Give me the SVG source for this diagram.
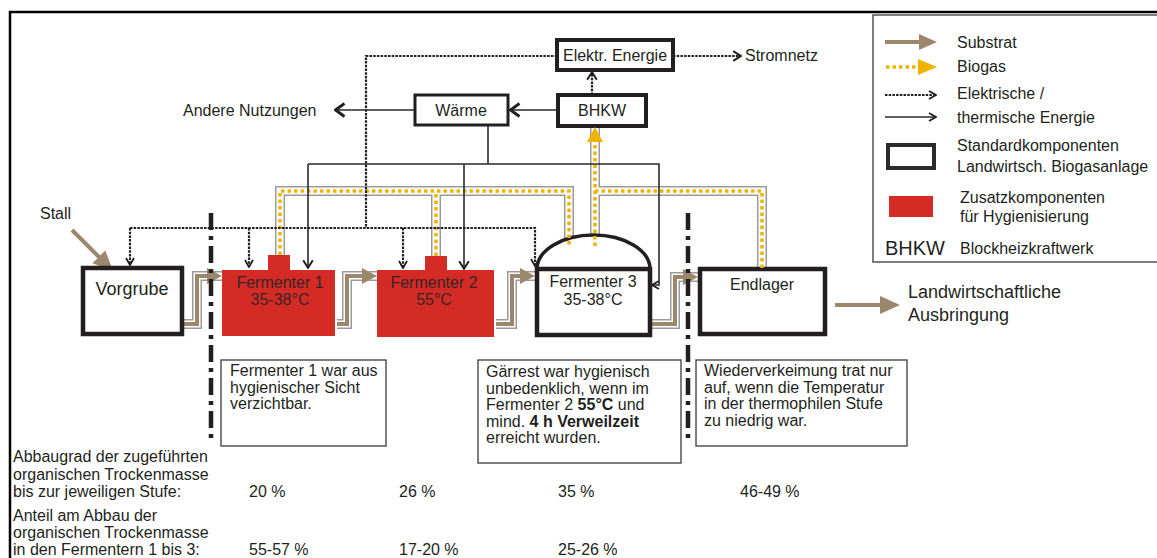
<svg xmlns="http://www.w3.org/2000/svg" width="1157" height="558" viewBox="0 0 1157 558">
<defs>
<style>
text{font-family:"Liberation Sans",Arial,sans-serif;fill:#231f20;font-size:16px}
.mid{text-anchor:middle}
.box{fill:#fff;stroke:#231f20}
.red{fill:#d52b27}
.rt{fill:#3a2424;text-anchor:middle}
.note{fill:#fff;stroke:#3a3a3a;stroke-width:1.3}
.gch{fill:none;stroke:#9a9a9a;stroke-width:10}
.wch{fill:none;stroke:#fff;stroke-width:7}
.gas{fill:none;stroke:#f0b400;stroke-width:3.5;stroke-dasharray:3.5 3}
.sub{fill:none;stroke:#9b876c;stroke-width:4}
.subf{fill:#9b876c}
.gasf{fill:#f0b400}
.heat{fill:none;stroke:#2a2a2a;stroke-width:1.6}
.elec{fill:none;stroke:#231f20;stroke-width:2.2;stroke-dasharray:2.5 1.2}
.sep{fill:none;stroke:#231f20;stroke-width:4.5;stroke-dasharray:17 6 4 6}
</style>
<marker id="chb" viewBox="0 0 12 16" refX="11" refY="8" markerWidth="12" markerHeight="16" markerUnits="userSpaceOnUse" orient="auto">
<path d="M1.5,1.5 L10.5,8 L1.5,14.5" fill="none" stroke="#231f20" stroke-width="2.8"/>
</marker>
<marker id="chm" viewBox="0 0 10 12" refX="9" refY="6" markerWidth="10" markerHeight="12" markerUnits="userSpaceOnUse" orient="auto">
<path d="M1.2,1.2 L8.8,6 L1.2,10.8" fill="none" stroke="#231f20" stroke-width="2"/>
</marker>
<marker id="chs" viewBox="0 0 9 10" refX="8" refY="5" markerWidth="9" markerHeight="10" markerUnits="userSpaceOnUse" orient="auto">
<path d="M1,1 L8,5 L1,9" fill="none" stroke="#231f20" stroke-width="1.8"/>
</marker>
</defs>
<rect width="1157" height="558" fill="#fff"/>
<g id="frame">
<path d="M9,12 H1157 M10,11 V558" fill="none" stroke="#000" stroke-width="2.5"/>
</g>
<g id="legend">
<rect x="873" y="15" width="300" height="247" fill="none" stroke="#555" stroke-width="1.5"/>
<line x1="885" y1="42" x2="921" y2="42" class="sub" stroke-width="5"/>
<path d="M919,34 L937,42 L919,50 Z" class="subf"/>
<text x="957" y="48">Substrat</text>
<line x1="886" y1="67" x2="918" y2="67" class="gas" stroke-width="4"/>
<path d="M918,59 L937,67 L918,75 Z" class="gasf"/>
<text x="957" y="72">Biogas</text>
<line x1="885" y1="95" x2="936" y2="95" class="elec" stroke-width="2.6" marker-end="url(#chs)"/>
<text x="957" y="99">Elektrische /</text>
<line x1="885" y1="117" x2="936" y2="117" class="heat" marker-end="url(#chs)"/>
<text x="957" y="123">thermische Energie</text>
<rect x="888" y="145" width="46" height="23" fill="none" stroke="#2b2b2b" stroke-width="4"/>
<text x="957" y="151">Standardkomponenten</text>
<text x="957" y="172">Landwirtsch. Biogasanlage</text>
<rect x="889" y="196" width="44" height="21" class="red"/>
<text x="960" y="203">Zusatzkomponenten</text>
<text x="960" y="222">für Hygienisierung</text>
<text x="885" y="255" style="font-size:20px">BHKW</text>
<text x="960" y="254">Blockheizkraftwerk</text>
</g>
<g id="connectors">
<g id="channels">
<path d="M280,255 V191 H569 V239 M436,256 V191" class="gch"/>
<path d="M595,235 V128 M595,191 H762 V268" class="gch"/>
<path d="M184,324 H197 V276 H222 M337,324 H347 V276 H377 M496,324 H512 V276 H535 M652,324 H675 V277 H698" class="gch"/>
<path d="M280,255 V191 H569 V239 M436,256 V191" class="wch"/>
<path d="M595,235 V128 M595,191 H762 V268" class="wch"/>
<path d="M184,324 H197 V276 H222 M337,324 H347 V276 H377 M496,324 H512 V276 H535 M652,324 H675 V277 H698" class="wch"/>
</g>
<g id="substrate">
<path d="M184,324 H197 V276 H209 M337,324 H347 V276 H364 M496,324 H512 V276 H522 M652,324 H675 V277 H685" class="sub"/>
<path d="M207,268 L222,276 L207,284 Z M362,268 L377,276 L362,284 Z M520,268 L535,276 L520,284 Z M683,269 L698,277 L683,285 Z" class="subf"/>
<line x1="72" y1="230" x2="100" y2="258" class="sub" stroke-width="4.5"/>
<path d="M113,271 L92.5,263.3 L105.3,250.5 Z" class="subf"/>
<line x1="835" y1="305" x2="882" y2="305" class="sub" stroke-width="5"/>
<path d="M880,296 L900,305 L880,314 Z" class="subf"/>
</g>
</g>
<g id="nodes">
<g id="vorgrube"><rect x="83" y="268" width="99" height="66" class="box" stroke-width="4.5"/><text x="132" y="295" class="mid" style="font-size:18px">Vorgrube</text></g>
<g id="fermenter1"><rect x="222" y="270" width="113" height="66" class="red"/><rect x="268" y="255" width="22" height="16" class="red"/><text x="280" y="288" class="rt">Fermenter 1</text><text x="280" y="305" class="rt">35-38°C</text></g>
<g id="fermenter2"><rect x="377" y="270" width="117" height="67" class="red"/><rect x="425" y="256" width="22" height="15" class="red"/><text x="434" y="288" class="rt">Fermenter 2</text><text x="434" y="305" class="rt">55°C</text></g>
<g id="fermenter3"><path d="M537,269 A56.5,34 0 0 1 650,269" fill="none" stroke="#231f20" stroke-width="3.5"/><rect x="537" y="269" width="113" height="66" class="box" stroke-width="4.5"/><text x="593" y="287" class="mid">Fermenter 3</text><text x="593" y="305" class="mid">35-38°C</text></g>
<g id="endlager"><rect x="700" y="269" width="125" height="65" class="box" stroke-width="4.5"/><text x="762" y="290" class="mid">Endlager</text></g>
<g id="elektr"><rect x="557" y="40" width="116" height="30" class="box" stroke-width="4"/><text x="615" y="61" class="mid">Elektr. Energie</text></g>
<g id="waerme"><rect x="415" y="95" width="93" height="30" class="box" stroke-width="3"/><text x="461" y="116" class="mid">Wärme</text></g>
<g id="bhkw"><rect x="558" y="95" width="88" height="31" class="box" stroke-width="4"/><text x="602" y="116" class="mid">BHKW</text></g>
</g>
<g id="connectors2">
<path d="M280,255 V191 H569 V247 M436,256 V191" class="gas"/>
<path d="M595,246 V141 M595,191 H762 V268" class="gas"/>
<path d="M587,142 L595,127 L603,142 Z" class="gasf"/>
<path d="M488,126 V164" class="heat"/>
<path d="M308,164 H659 V285 H652" class="heat" marker-end="url(#chs)"/>
<path d="M308,164 V268" class="heat" stroke-width="2" marker-end="url(#chm)"/>
<path d="M464,164 V269" class="heat" stroke-width="2" marker-end="url(#chm)"/>
<path d="M415,110 H335" class="heat" stroke-width="2.2" marker-end="url(#chb)"/>
<path d="M558,110 H510" class="heat" stroke-width="2.2" marker-end="url(#chb)"/>
<path d="M557,56 H366 V228" class="elec" stroke-width="2.6"/>
<path d="M130,228 H535 V266" class="elec" marker-end="url(#chs)"/>
<path d="M130,228 V265" class="elec" marker-end="url(#chs)"/>
<path d="M249,228 V267" class="elec" marker-end="url(#chs)"/>
<path d="M403,228 V268" class="elec" marker-end="url(#chs)"/>
<path d="M592,95 V72" class="elec" marker-end="url(#chm)"/>
<path d="M673,56 H741" class="elec" marker-end="url(#chm)"/>
<path d="M211,213 V442 M688,213 V442" class="sep"/>
</g>
<g id="labels">
<text x="183" y="116">Andere Nutzungen</text>
<text x="745" y="61">Stromnetz</text>
<text x="40" y="219">Stall</text>
<text x="908" y="298" style="font-size:18px">Landwirtschaftliche</text>
<text x="908" y="321" style="font-size:18px">Ausbringung</text>
</g>
<g id="note1"><rect x="221" y="360" width="165" height="86" class="note"/>
<text x="230" y="376">Fermenter 1 war aus</text><text x="230" y="392.5">hygienischer Sicht</text><text x="230" y="409">verzichtbar.</text></g>
<g id="note2"><rect x="478" y="360" width="203" height="103" class="note"/>
<text x="486" y="377">Gärrest war hygienisch</text><text x="486" y="393.5">unbedenklich, wenn im</text><text x="486" y="410">Fermenter 2 <tspan font-weight="bold">55°C</tspan> und</text><text x="486" y="426.5">mind. <tspan font-weight="bold">4 h Verweilzeit</tspan></text><text x="486" y="443">erreicht wurden.</text></g>
<g id="note3"><rect x="696" y="360" width="211" height="86" class="note"/>
<text x="704" y="376">Wiederverkeimung trat nur</text><text x="704" y="392.5">auf, wenn die Temperatur</text><text x="704" y="409">in der thermophilen Stufe</text><text x="704" y="425.5">zu niedrig war.</text></g>
<g id="table">
<text x="13" y="462">Abbaugrad der zugeführten</text>
<text x="13" y="480">organischen Trockenmasse</text>
<text x="13" y="497">bis zur jeweiligen Stufe:</text>
<text x="249" y="497">20 %</text><text x="399" y="497">26 %</text><text x="558" y="497">35 %</text><text x="740" y="497">46-49 %</text>
<text x="13" y="521">Anteil am Abbau der</text>
<text x="13" y="538">organischen Trockenmasse</text>
<text x="13" y="555">in den Fermentern 1 bis 3:</text>
<text x="249" y="555">55-57 %</text><text x="399" y="555">17-20 %</text><text x="558" y="555">25-26 %</text>
</g>
</svg>
